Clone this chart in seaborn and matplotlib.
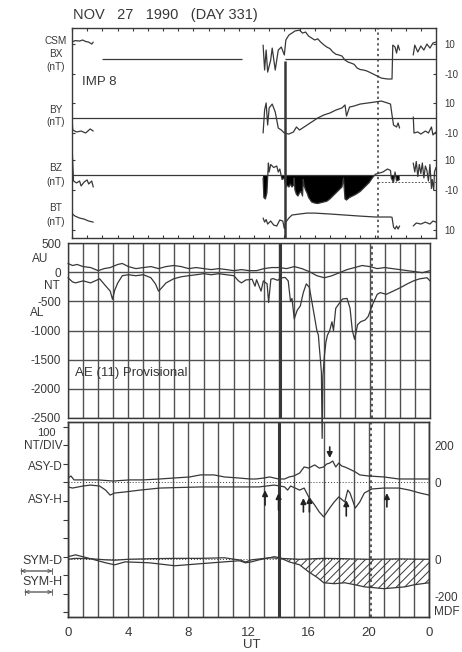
import numpy as np
import pandas as pd
import matplotlib
matplotlib.use("Agg")
import matplotlib.pyplot as plt
import seaborn as sns

# ---------------- data ----------------
# IMP 8 interplanetary field, three data segments each (hours UT, nT)
BX_T = [[0.0, 0.2, 0.5, 0.7, 0.9, 1.1, 1.3, 1.4],
        [12.6, 12.7, 12.8, 12.9, 13.1, 13.2, 13.4, 13.6, 13.8, 14.0, 14.1, 14.3, 14.5, 14.7, 15.0,
         15.2, 15.4, 15.6, 16.0, 16.2, 16.4, 16.6, 16.8, 17.0, 17.2, 17.4, 17.6, 17.8, 18.0, 18.2,
         18.4, 18.6, 18.8, 19.0, 19.2, 19.4, 19.6, 20.0, 20.4, 20.8, 21.1, 21.15, 21.3, 21.4, 21.5, 21.6],
        [22.5, 22.6, 22.8, 23.0, 23.2, 23.4, 23.6, 23.8, 24.0]]
BX_V = [[11.3, 12.3, 12.0, 12.7, 11.7, 11.3, 10.0, 11.3],
        [9.3, -7.3, 6.0, -8.7, -0.7, 7.3, -7.3, 6.0, 8.0, 2.7, 12.7, 16.0, 17.3, 18.7, 19.3,
         17.3, 18.0, 15.3, 12.7, 13.5, 11.3, 9.5, 8.0, 7.0, 4.7, 3.2, 2.7, 2.0, -0.7, -2.0,
         -2.7, -3.5, -6.0, -7.0, -7.3, -7.8, -8.7, -10.7, -12.7, -13.3, -13.3, 9.3, 8.0, 4.0, 9.3, 6.0],
        [2.7, 9.3, 4.7, 8.7, 6.0, 10.0, 7.3, 10.7, 11.3]]

BY_T = [[0.0, 0.05, 0.3, 0.6, 0.9, 1.2, 1.4],
        [12.6, 12.7, 12.8, 12.9, 13.0, 13.2, 13.4, 13.6, 13.8, 14.0, 14.3, 14.6, 14.8, 15.0, 15.2,
         15.5, 15.8, 16.2, 16.6, 17.0, 17.4, 17.8, 18.0, 18.1, 18.3, 18.6, 19.0, 19.5, 20.0, 20.4,
         20.8, 21.0, 21.1, 21.2, 21.4, 21.5, 21.6],
        [22.5, 22.55, 22.8, 23.0, 23.3, 23.5, 23.7, 23.8, 24.0]]
BY_V = [[0.0, -8.0, -9.3, -8.7, -10.0, -7.3, -8.7],
        [-10.0, 5.3, 10.0, -4.7, 6.7, 9.3, 4.0, -6.7, -8.0, -10.0, -10.7, -9.3, -6.0, -8.0, -6.7,
         -4.7, -2.7, 0.0, 2.0, 3.3, 5.3, 6.7, 8.7, 1.3, 7.3, 8.0, 9.3, 10.0, 10.7, 11.3,
         10.0, 9.3, 2.0, -4.7, -6.0, -3.3, -6.7],
        [0.7, -10.0, -9.3, -10.7, -8.7, -10.0, -6.0, -11.3, -9.3]]

BZ_T = [[0.0, 0.1, 0.3, 0.5, 0.6, 0.8, 1.0, 1.1, 1.3, 1.4],
        [12.6, 12.65, 12.75, 12.85, 12.9, 12.95, 13.0, 13.1, 13.3, 13.5, 13.6, 13.7, 13.85, 14.0,
         14.1, 14.2, 14.3, 14.4, 14.5, 14.6, 14.65, 14.7, 14.8, 14.9, 15.0, 15.1, 15.2, 15.25,
         15.3, 15.4, 15.5, 15.6, 15.8, 16.0, 16.2, 16.4, 16.6, 16.8, 17.0, 17.2, 17.4, 17.6,
         17.8, 17.9, 18.0, 18.1, 18.3, 18.5, 18.7, 19.0, 19.2, 19.4, 19.6, 19.8, 20.0, 20.5,
         20.8, 21.0, 21.05, 21.2, 21.3, 21.4, 21.6],
        [22.5, 22.6, 22.7, 22.8, 22.9, 23.0, 23.1, 23.2, 23.3, 23.4, 23.5, 23.6, 23.7, 23.75,
         23.85, 23.9, 24.0]]
BZ_V = [[20.0, -4.0, -5.3, -4.0, -7.3, -4.7, -3.3, -6.0, -4.0, -8.0],
        [-2, -15, -16, -12, -2, 8, 2, 7, 5, 6, 2, 4, -3, -2,
         -8, -7, -8, -6, -8, -7, -2, -10, -13, -14, -12, -11, -14, -3,
         -7, -10, -12, -15, -18, -18.7, -19, -18.5, -18, -17.5, -16, -14, -12, -10,
         -8, -2, -16, -16.7, -15, -14, -13, -11, -9, -7, -5, -2, 0.5, 2,
         4, 3, -2, -5, 2, -4, -3],
        [8, 2, 9, -1, 7, 1, 8, -2, 6, 3, -4, 7, -9, -3, -10, 2, 5]]

BT_T = [[0.0, 0.2, 0.5, 0.8, 1.1, 1.4],
        [12.6, 12.7, 12.8, 12.9, 13.1, 13.3, 13.5, 13.7, 13.9, 14.0, 14.1, 14.3, 14.5, 15.0,
         15.5, 16.0, 17.0, 18.0, 19.0, 20.0, 21.0, 21.1, 21.2, 21.3, 21.4, 21.5, 21.6],
        [22.5, 22.7, 23.0, 23.3, 23.6, 23.8, 24.0]]
BT_V = [[21, 19.3, 18, 17.3, 16, 15.3],
        [18, 15.3, 17, 14, 16, 13.3, 12.7, 16.7, 16, 11, 15.3, 18, 20, 20.7,
         21.3, 21.3, 20.7, 20, 19.3, 18.7, 18.7, 18.5, 12, 10.7, 12.7, 10.7, 12.7],
        [12.7, 14.7, 14, 15.3, 14, 16, 15.3]]

# AE (11) provisional indices, nT
AU_T = [0, 0.3, 0.6, 1.0, 1.5, 2.0, 2.4, 2.8, 3.3, 3.6, 4.0, 4.5, 5.0, 5.5, 6.0, 6.5, 7.0, 7.5,
        8.0, 8.5, 9.0, 9.5, 10.0, 10.5, 11.0, 11.5, 12.0, 12.5, 13.0, 13.5, 14.0, 14.5, 15.0,
        15.5, 16.0, 16.5, 17.0, 17.5, 18.0, 18.5, 19.0, 19.5, 20.0, 20.5, 21.0, 21.5, 22.0,
        22.5, 23.0, 23.5, 24.0]
AU_V = [149, 114, 132, 96, 79, 26, 61, 79, 132, 149, 96, 61, 79, 96, 61, 96, 114, 96,
        61, 79, 61, 44, 61, 44, 26, 44, 26, 26, 61, 79, 79, 61, 96,
        61, 9, -61, -96, -61, -9, 44, 79, 114, 96, 61, 79, 61, 44,
        26, 9, -9, 26]
AL_T = [0.0, 0.3, 0.5, 1.0, 1.5, 2.1, 2.5, 2.8, 2.95, 3.1, 3.3, 3.6, 4.0, 4.5, 5.0, 5.5, 5.8,
        6.0, 6.2, 6.5, 7.0, 7.5, 8.0, 8.5, 9.0, 9.5, 10.0, 10.5, 11.0, 11.3, 11.5, 11.8, 12.0,
        12.2, 12.4, 12.5, 12.8, 12.95, 13.2, 13.3, 13.45, 13.6, 13.9, 14.1, 14.4, 14.6, 14.75,
        14.85, 15.0, 15.2, 15.4, 15.6, 15.8, 16.0, 16.15, 16.3, 16.5, 16.6, 16.65, 16.75, 16.8,
        16.85, 16.9, 17.0, 17.1, 17.2, 17.35, 17.5, 17.6, 17.75, 18.0, 18.2, 18.5, 18.7, 18.85,
        19.0, 19.2, 19.4, 19.7, 19.9, 20.2, 20.5, 20.7, 21.1, 21.6, 22.0, 22.5, 22.9, 23.3,
        23.8, 24.0]
AL_V = [-96, -167, -184, -149, -184, -114, -237, -325, -465, -307, -184, -61, -44, -61, -44,
        -96, -202, -325, -272, -184, -114, -79, -61, -44, -26, -44, -26, -44, -61, -149, -184,
        -132, -130, -120, -240, -130, -325, -150, -200, -520, -120, -110, -140, -100, -90, -150,
        -500, -450, -800, -650, -580, -350, -200, -260, -480, -700, -1000, -1080, -1250, -1550,
        -1720, -2850, -1780, -1430, -1200, -1080, -1000, -850, -1000, -620, -530, -460, -450,
        -620, -1000, -1150, -900, -850, -820, -760, -550, -380, -350, -380, -320, -270, -200,
        -150, -115, -95, -150]

# ASY / SYM indices, nT
ASYD_T = [0.0, 0.2, 0.4, 1.0, 2.0, 3.0, 4.1, 5.0, 6.1, 7.0, 8.1, 8.8, 9.7, 10.4, 11.4, 12.1,
          12.5, 13.0, 13.4, 14.0, 14.4, 14.7, 15.0, 15.4, 15.7, 16.0, 16.4, 16.7, 17.0, 17.2,
          17.4, 17.6, 17.8, 18.0, 18.2, 18.4, 18.7, 19.1, 19.4, 20.0, 21.0, 22.0, 23.0, 24.0]
ASYD_V = [24, 35, 14, 14, 14, 8, 14, 14, 19, 24, 30, 41, 41, 30, 24, 19,
          19, 24, 30, 19, 19, 30, 35, 51, 84, 78, 95, 78, 84, 100,
          105, 116, 84, 105, 89, 84, 73, 57, 41, 35, 30, 19, 19, 19]
ASYH_T = [0.0, 0.3, 1.0, 1.5, 2.1, 2.5, 2.8, 3.1, 3.8, 4.8, 6.1, 8.8, 12.1, 12.7, 13.7, 14.1,
          14.4, 14.6, 14.8, 15.4, 15.7, 16.0, 16.4, 16.7, 17.0, 17.4, 17.7, 18.0, 18.4, 18.6,
          18.75, 19.1, 19.4, 19.7, 20.2, 21.0, 22.0, 22.7, 23.4, 24.0]
ASYH_V = [-24, -30, -19, -14, -19, -41, -68, -57, -51, -41, -30, -24, -24, -24, -14, -19,
          -24, -41, -19, -41, -30, -78, -122, -159, -186, -138, -105, -78, -105, -41,
          -57, -138, -105, -57, -35, -30, -30, -41, -57, -68]
SYMH_T = [0.0, 0.5, 1.5, 2.5, 3.1, 3.8, 5.4, 7.1, 8.8, 10.4, 11.4, 11.8, 12.2, 12.7, 13.4,
          13.7, 14.1, 14.7, 15.4, 16.0, 16.6, 17.0, 17.7, 18.4, 19.1, 19.7, 20.4, 21.0, 21.7,
          22.4, 23.0, 24.0]
SYMH_V = [14, 24, 3, -19, -30, -14, -19, -35, -24, -14, -8, -19, -14, -3, 8,
          14, 8, -14, -30, -68, -100, -127, -132, -127, -138, -149, -154, -159, -154,
          -149, -138, -127]
SYMD_T = [0.0, 0.5, 1.5, 2.5, 3.1, 4.0, 5.4, 7.1, 8.8, 10.4, 11.5, 11.8, 12.2, 13.4, 14.1,
          15.4, 17.0, 18.4, 20.0, 22.0, 24.0]
SYMD_V = [0, 5, 3, -3, -5, 0, 3, 5, 5, 8, -5, -15, -3, 8, 5, 0, 5, 3, 0, 2, 0]

# event markers (UT hours, nT)
UP_T = [13.1, 14.0, 15.65, 16.05, 18.5, 21.2]
UP_HEAD = [-41, -57, -84, -78, -95, -57]
UP_TAIL = [-122, -149, -159, -159, -181, -132]
DOWN_T = [17.4]
DOWN_TAIL = [192]
DOWN_HEAD = [132]
SSC_T = 14.05
DOTTED_T = 20.15

# ---------------- styling ----------------
sns.set_theme(style="ticks")
plt.rcParams["font.family"] = ["Liberation Sans", "DejaVu Sans"]
INK = "#383838"
GRID = "#505050"
plt.rcParams.update({"axes.edgecolor": INK, "axes.linewidth": 1.0, "text.color": INK,
                     "xtick.color": INK, "ytick.color": INK, "hatch.linewidth": 0.7,
                     "hatch.color": INK})

W, H = 462, 652
fig = plt.figure(figsize=(W / 100, H / 100), dpi=100)


def box(l, t, r, b):
    return [l / W, 1 - b / H, (r - l) / W, (b - t) / H]


def ftext(x, y, s, size=8, ha="center", **kw):
    fig.text(x / W, 1 - y / H, s, ha=ha, va="center", fontsize=size, color=INK, **kw)


def seg_frame(ts, vs, off):
    rows = []
    for k, (t, v) in enumerate(zip(ts, vs)):
        assert len(t) == len(v)
        for a, b in zip(t, v):
            rows.append((a, b + off, k))
    return pd.DataFrame(rows, columns=["t", "y", "seg"])


ax1 = fig.add_axes(box(72, 28, 436, 238))
ax2 = fig.add_axes(box(68, 243, 430, 418))
ax3 = fig.add_axes(box(68, 422, 429, 617))
ax3.set_facecolor("none")

# ---------------- panel 1: IMF ----------------
OFF = {"BX": 0.0, "BY": -39.3, "BZ": -77.3, "BT": -124.0}
ax1.set_xlim(0, 24)
ax1.set_ylim(-119.3, 20.7)
ax1.hlines([0, 0], [2.0, SSC_T], [11.2, 24], color=INK, lw=0.9)
ax1.axhline(OFF["BY"], color=INK, lw=0.9)
ax1.axhline(OFF["BZ"], color=INK, lw=0.9)
ax1.hlines(OFF["BZ"] - 5, 20.2, 24, color=INK, lw=0.6, ls=(0, (2, 2)))
for name, T, V in [("BX", BX_T, BX_V), ("BY", BY_T, BY_V), ("BZ", BZ_T, BZ_V), ("BT", BT_T, BT_V)]:
    df = seg_frame(T, V, OFF[name])
    sns.lineplot(data=df, x="t", y="y", units="seg", estimator=None, sort=False,
                 color=INK, lw=0.9, ax=ax1, legend=False)
bz_t = np.array(BZ_T[1])
bz_v = np.array(BZ_V[1]) + OFF["BZ"]
ax1.fill_between(bz_t, bz_v, OFF["BZ"], where=bz_v < OFF["BZ"], interpolate=True,
                 color="black", lw=0)
ax1.vlines(SSC_T, -119.3, -1.3, color=INK, lw=1.8)
ax1.axvline(DOTTED_T, color=INK, lw=1.1, ls=(0, (1.5, 2)))
ax1.set_xticks(range(25))
ax1.tick_params(axis="x", direction="in", length=2.5, top=True, bottom=True,
                labelbottom=False, width=0.8)
rt = [10, -10, OFF["BY"] + 10, OFF["BY"] - 10, OFF["BZ"] + 10, OFF["BZ"] - 10, OFF["BT"] + 10]
ax1.set_yticks(rt)
ax1.set_yticklabels(["10", "-10", "10", "-10", "10", "-10", "10"])
ax1.tick_params(axis="y", direction="in", length=2.5, left=True, right=True,
                labelleft=False, labelright=True, labelsize=7, pad=6, width=0.8)
ax1.set_xlabel("")
ax1.set_ylabel("")
ax1.text(0.027, 0.743, "IMP 8", transform=ax1.transAxes, fontsize=9.5, color=INK,
         ha="left", va="center")

for s, y in [("CSM", 41), ("BX", 54), ("(nT)", 67), ("BY", 110), ("(nT)", 122),
             ("BZ", 168), ("(nT)", 182), ("BT", 208), ("(nT)", 222)]:
    ftext(56, y, s, size=7.2)
ftext(73, 15, "NOV   27   1990   (DAY 331)", size=10.5, ha="left")

# ---------------- panel 2: AE ----------------
ax2.set_xlim(0, 24)
ax2.set_ylim(-2500, 500)
ax2.set_xticks(range(25))
ax2.tick_params(axis="x", length=0, labelbottom=False)
ax2.set_yticks([500, 0, -500, -1000, -1500, -2000, -2500])
ax2.set_yticklabels(["500", "0", "-500", "-1000", "-1500", "-2000", "-2500"])
ax2.tick_params(axis="y", length=0, pad=5, labelsize=8.5)
ax2.grid(True, color=GRID, lw=1.0)
ax2.axvline(SSC_T, color=INK, lw=2.2)
ax2.axvline(DOTTED_T, color=INK, lw=1.2, ls=(0, (1.5, 2)))
ae = pd.DataFrame({"t": AU_T + AL_T, "v": AU_V + AL_V,
                   "idx": ["AU"] * len(AU_T) + ["AL"] * len(AL_T)})
sns.lineplot(data=ae, x="t", y="v", units="idx", estimator=None, sort=False,
             color=INK, lw=0.9, ax=ax2, legend=False)
for ln in ax2.lines[-2:]:
    ln.set_clip_on(False)
ax2.set_xlabel("")
ax2.set_ylabel("")
ax2.text(0.02, 0.257, "AE (11) Provisional", transform=ax2.transAxes, fontsize=9.5,
         color=INK, ha="left", va="center")
ftext(40, 259, "AU", size=8.5)
ftext(52, 286, "NT", size=8.5)
ftext(37, 313, "AL", size=8.5)

# ---------------- panel 3: ASY / SYM ----------------
SYM0 = -415
ax3.set_xlim(0, 24)
ax3.set_ylim(-727, 327)
ax3.set_xticks([0, 4, 8, 12, 16, 20, 24])
ax3.set_xticklabels(["0", "4", "8", "12", "16", "20", "0"])
ax3.set_xticks(range(25), minor=True)
ax3.tick_params(axis="x", which="both", length=0, labelsize=9.5, pad=7)
ax3.grid(True, axis="x", which="both", color=GRID, lw=1.0)
ax3.set_yticks(range(-700, 301, 100))
ax3.tick_params(axis="y", direction="out", length=3.5, left=True, right=True,
                labelleft=False, width=0.8)
ax3.axvline(SSC_T, color=INK, lw=2.2)
ax3.axvline(DOTTED_T, color=INK, lw=1.2, ls=(0, (1.5, 2)))
ax3.axhline(0, color=INK, lw=0.7, ls=(0, (1, 2)))
ax3.axhline(SYM0, color=INK, lw=0.7, ls=(0, (1, 2)))

gm = pd.DataFrame({
    "t": ASYD_T + ASYH_T + SYMD_T + SYMH_T,
    "v": ASYD_V + ASYH_V + [v + SYM0 for v in SYMD_V] + [v + SYM0 for v in SYMH_V],
    "idx": (["ASY-D"] * len(ASYD_T) + ["ASY-H"] * len(ASYH_T)
            + ["SYM-D"] * len(SYMD_T) + ["SYM-H"] * len(SYMH_T)),
})
sns.lineplot(data=gm, x="t", y="v", units="idx", estimator=None, sort=False,
             color=INK, lw=0.9, ax=ax3, legend=False)
sh_t = np.array(SYMH_T)
sh_v = np.array(SYMH_V) + SYM0
ax3.fill_between(sh_t, sh_v, SYM0, where=(sh_t >= 14.5) & (sh_v < SYM0), interpolate=True,
                 facecolor="none", edgecolor=INK, hatch="////", lw=0)
for t, h, tl in zip(UP_T, UP_HEAD, UP_TAIL):
    ax3.annotate("", xy=(t, h), xytext=(t, tl),
                 arrowprops=dict(arrowstyle="-|>", color="#222222", lw=1.2, mutation_scale=8,
                                 shrinkA=0, shrinkB=0))
for t, tl, h in zip(DOWN_T, DOWN_TAIL, DOWN_HEAD):
    ax3.annotate("", xy=(t, h), xytext=(t, tl),
                 arrowprops=dict(arrowstyle="-|>", color="#222222", lw=1.2, mutation_scale=8,
                                 shrinkA=0, shrinkB=0))
ax3.set_xlabel("")
ax3.set_ylabel("")

ax3r = ax3.twinx()
ax3r.set_ylim(ax3.get_ylim())
ax3r.set_yticks([200, 0, SYM0, SYM0 - 200])
ax3r.set_yticklabels(["200", "0", "0", "-200"])
ax3r.tick_params(axis="y", length=0, pad=4, labelsize=8.5)
ax3r.grid(False)

ftext(46, 433, "100", size=8)
ftext(63, 446, "NT/DIV", size=8.5, ha="right")
ftext(63, 467, "ASY-D", size=8.5, ha="right")
ftext(63, 500, "ASY-H", size=8.5, ha="right")
ftext(63, 561, "SYM-D", size=9, ha="right")
ftext(63, 582, "SYM-H", size=9, ha="right")
ftext(434, 612, "MDF", size=8.5, ha="left")
for yy, x0 in [(571, 18), (592, 22)]:
    for st in ["<->", "|-|"]:
        fig.add_artist(matplotlib.patches.FancyArrowPatch(
            (x0 / W, 1 - yy / H), (55 / W, 1 - yy / H), transform=fig.transFigure,
            arrowstyle=st + (",head_length=0.25,head_width=0.12" if st == "<->" else ",widthA=0.2,widthB=0.2"),
            color="#555555", lw=0.6, mutation_scale=10))
ftext(252, 645, "UT", size=9.5)

fig.savefig("out.png", dpi=100)
